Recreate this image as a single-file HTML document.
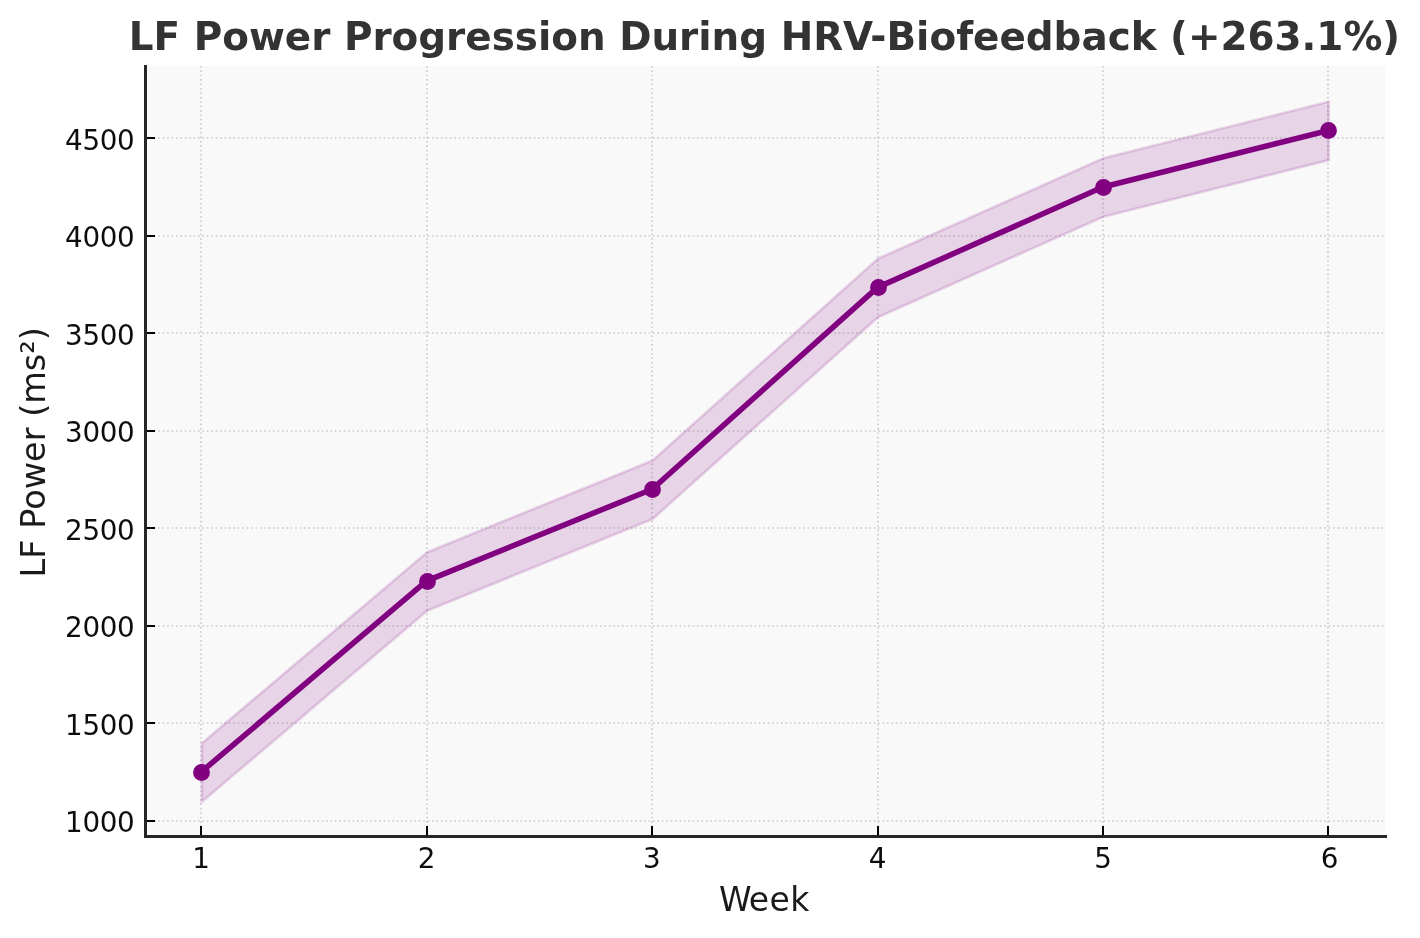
<!DOCTYPE html>
<html lang="en">
<head>
<meta charset="utf-8">
<title>LF Power Progression During HRV-Biofeedback</title>
<style>
html,body{margin:0;padding:0;background:#fff;}
body{width:1420px;height:938px;overflow:hidden;}
svg{display:block;}
text{font-family:"DejaVu Sans","Liberation Sans",sans-serif;}
.tick{font-size:27.78px;fill:#0d0d0d;}
.lab{font-size:33.33px;fill:#1a1a1a;}
.ttl{font-size:38.89px;font-weight:bold;fill:#333333;}
</style>
</head>
<body>
<svg width="1420" height="938" viewBox="0 0 1420 938">
<rect x="0" y="0" width="1420" height="938" fill="#ffffff"/>
<!-- axes background -->
<rect x="145" y="66" width="1240" height="770" fill="#f9f9f9"/>
<!-- dotted grid -->
<g stroke="#cccccc" stroke-width="1.6667" stroke-dasharray="1.6667 2.75" fill="none">
<line x1="201" y1="836" x2="201" y2="66"/>
<line x1="427" y1="836" x2="427" y2="66"/>
<line x1="652" y1="836" x2="652" y2="66"/>
<line x1="878" y1="836" x2="878" y2="66"/>
<line x1="1103" y1="836" x2="1103" y2="66"/>
<line x1="1328" y1="836" x2="1328" y2="66"/>
<line x1="145" y1="821" x2="1385" y2="821"/>
<line x1="145" y1="723" x2="1385" y2="723"/>
<line x1="145" y1="626" x2="1385" y2="626"/>
<line x1="145" y1="528" x2="1385" y2="528"/>
<line x1="145" y1="431" x2="1385" y2="431"/>
<line x1="145" y1="333" x2="1385" y2="333"/>
<line x1="145" y1="236" x2="1385" y2="236"/>
<line x1="145" y1="138" x2="1385" y2="138"/>
</g>
<!-- confidence band -->
<polygon points="201.9,743.25 427.25,552.15 652.6,460.5 878,258.65 1103.35,158.25 1328.7,101.7 1328.7,160.2 1103.35,216.75 878,317.15 652.6,519 427.25,610.65 201.9,801.75" fill="#800080" fill-opacity="0.15" stroke="#800080" stroke-opacity="0.15" stroke-width="2.78" stroke-linejoin="miter"/>
<!-- data line and markers -->
<polyline points="201.2,772 426.65,580.9 652.1,489.25 877.55,287.4 1103,187 1328.45,130.45" fill="none" stroke="#800080" stroke-width="5.56" stroke-linejoin="round" stroke-linecap="butt"/>
<circle cx="201.5" cy="772.5" r="8.4" fill="#800080"/>
<circle cx="427.5" cy="581.5" r="8.4" fill="#800080"/>
<circle cx="652.5" cy="489.5" r="8.4" fill="#800080"/>
<circle cx="878.5" cy="287.5" r="8.4" fill="#800080"/>
<circle cx="1103.5" cy="187.5" r="8.4" fill="#800080"/>
<circle cx="1328.5" cy="130.5" r="8.4" fill="#800080"/>
<!-- tick marks -->
<g fill="#000000" shape-rendering="crispEdges">
<rect x="200" y="826" width="2" height="9.5"/>
<rect x="426" y="826" width="2" height="9.5"/>
<rect x="651" y="826" width="2" height="9.5"/>
<rect x="877" y="826" width="2" height="9.5"/>
<rect x="1102" y="826" width="2" height="9.5"/>
<rect x="1327" y="826" width="2" height="9.5"/>
<rect x="146.5" y="820" width="8.5" height="2"/>
<rect x="146.5" y="722" width="8.5" height="2"/>
<rect x="146.5" y="625" width="8.5" height="2"/>
<rect x="146.5" y="527" width="8.5" height="2"/>
<rect x="146.5" y="430" width="8.5" height="2"/>
<rect x="146.5" y="332" width="8.5" height="2"/>
<rect x="146.5" y="235" width="8.5" height="2"/>
<rect x="146.5" y="137" width="8.5" height="2"/>
</g>
<!-- spines -->
<g fill="#262626" shape-rendering="crispEdges">
<rect x="144" y="65" width="3" height="773"/>
<rect x="144" y="835" width="1242.7" height="3"/>
</g>
<!-- tick labels -->
<text class="tick" x="201" y="868.1" text-anchor="middle">1</text>
<text class="tick" x="426.7" y="868.1" text-anchor="middle">2</text>
<text class="tick" x="651.8" y="868.1" text-anchor="middle">3</text>
<text class="tick" x="877.6" y="868.1" text-anchor="middle">4</text>
<text class="tick" x="1103" y="868.1" text-anchor="middle">5</text>
<text class="tick" x="1329.7" y="868.1" text-anchor="middle">6</text>
<text class="tick" x="134.7" y="832" text-anchor="end" textLength="69.6" lengthAdjust="spacing">1000</text>
<text class="tick" x="134.7" y="735" text-anchor="end" textLength="69.6" lengthAdjust="spacing">1500</text>
<text class="tick" x="134.7" y="637" text-anchor="end" textLength="69.6" lengthAdjust="spacing">2000</text>
<text class="tick" x="134.7" y="540" text-anchor="end" textLength="69.6" lengthAdjust="spacing">2500</text>
<text class="tick" x="134.7" y="442" text-anchor="end" textLength="69.6" lengthAdjust="spacing">3000</text>
<text class="tick" x="134.7" y="345" text-anchor="end" textLength="69.6" lengthAdjust="spacing">3500</text>
<text class="tick" x="134.7" y="247" text-anchor="end" textLength="69.6" lengthAdjust="spacing">4000</text>
<text class="tick" x="134.7" y="150" text-anchor="end" textLength="69.6" lengthAdjust="spacing">4500</text>
<!-- axis labels and title -->
<text class="lab" style="font-size:33px" x="719 748.8 769.6 790.3" y="910.8">Week</text>
<text class="lab" style="font-size:33.5px" transform="translate(45,452.3) rotate(-90)" text-anchor="middle">LF Power (ms²)</text>
<text class="ttl" x="764.5" y="50.4" text-anchor="middle">LF Power Progression During HRV-Biofeedback (+263.1%)</text>
</svg>
</body>
</html>
